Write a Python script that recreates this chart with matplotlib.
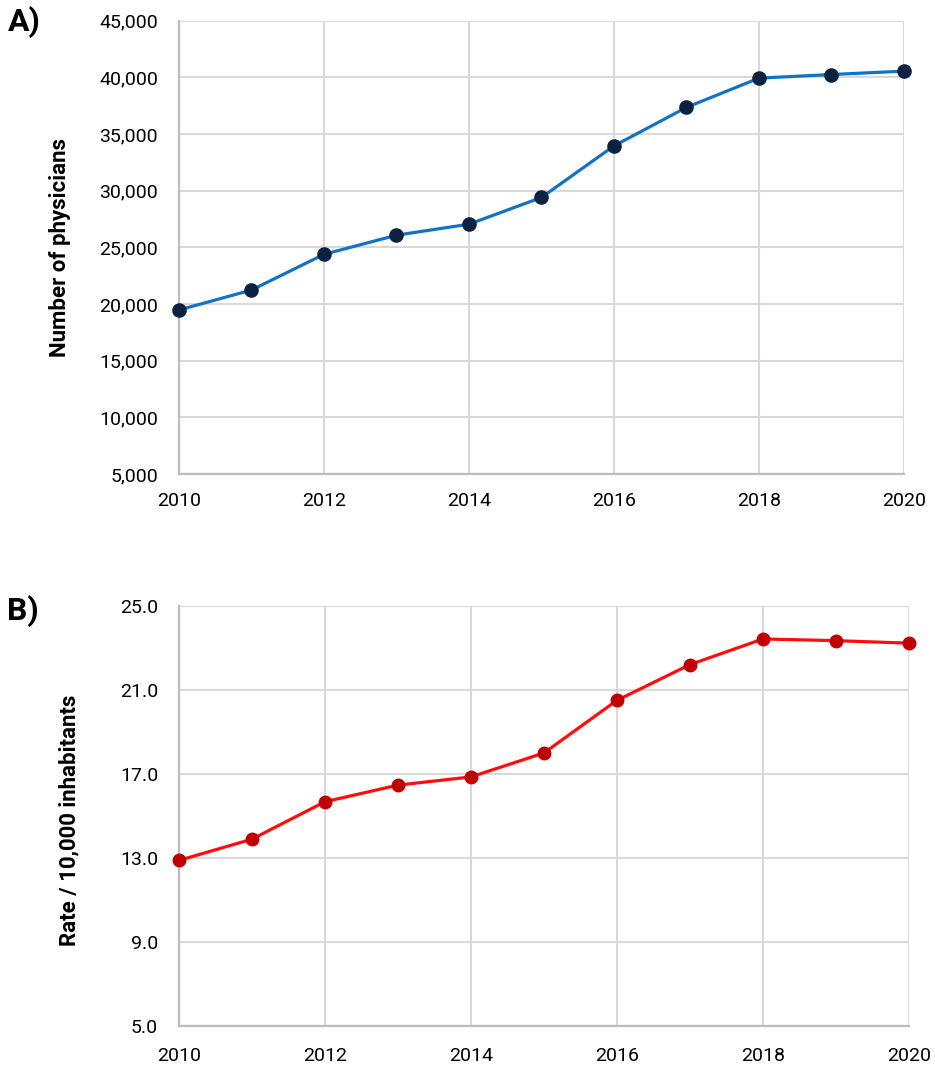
import numpy as np
from matplotlib import pyplot as plt
from matplotlib.ticker import FuncFormatter

plt.rcParams['font.family'] = ['Roboto', 'DejaVu Sans']

years = [2010, 2011, 2012, 2013, 2014, 2015, 2016, 2017, 2018, 2019, 2020]
physicians = [19470, 21230, 24380, 26070, 27040, 29400, 33950, 37350, 39930, 40250, 40550]
rate = [12.89, 13.9, 15.68, 16.47, 16.86, 18.0, 20.5, 22.2, 23.42, 23.34, 23.22]

grid_col = "#d9d9d9"
spine_col = "#bdbdbd"

fig = plt.figure(figsize=[9.35, 10.67], dpi=100)
axA = fig.add_axes([0.1914, 0.5558, 0.7754, 0.4248])
axB = fig.add_axes([0.1914, 0.0381, 0.7807, 0.3942])

def style(ax):
    ax.set_xlim(2010, 2020)
    ax.set_xticks(range(2010, 2021, 2))
    ax.grid(True, color=grid_col, lw=1.5, zorder=0)
    for s in ["top", "right"]:
        ax.spines[s].set_visible(False)
    for s in ["left", "bottom"]:
        ax.spines[s].set_color(spine_col)
        ax.spines[s].set_linewidth(1.6)
    ax.tick_params(which="both", length=0)
    ax.tick_params(axis="y", pad=15, labelsize=14)
    ax.tick_params(axis="x", pad=13, labelsize=14)
    ax.set_axisbelow(True)

# A) number of physicians
style(axA)
axA.set_ylim(5000, 45000)
axA.set_yticks(np.arange(5000, 45001, 5000))
axA.yaxis.set_major_formatter(FuncFormatter(lambda v, p: f"{int(v):,}"))
axA.plot(years, physicians, color="#1372c4", lw=2.3, marker="o", ms=9.5,
         mfc="#0d2240", mec="#0d2240", clip_on=False, zorder=3)
axA.set_ylabel("Number of physicians", fontsize=16, fontweight="bold", labelpad=20)
fig.text(0.008, 0.979, "A)", fontsize=23, fontweight="bold", va="center", ha="left")

# B) rate
style(axB)
axB.set_ylim(5, 25)
axB.set_yticks(np.arange(5, 25.1, 4))
axB.yaxis.set_major_formatter(FuncFormatter(lambda v, p: f"{v:.1f}"))
axB.tick_params(axis="x", pad=15)
axB.plot(years, rate, color="#ff0d0d", lw=2.3, marker="o", ms=9,
         mfc="#c00000", mec="#c00000", clip_on=False, zorder=3)
axB.set_ylabel("Rate / 10,000 inhabitants", fontsize=16, fontweight="bold")
axB.yaxis.set_label_coords(-0.135, 0.49)
fig.text(0.008, 0.427, "B)", fontsize=23, fontweight="bold", va="center", ha="left")

plt.savefig("out.png", dpi=100)
